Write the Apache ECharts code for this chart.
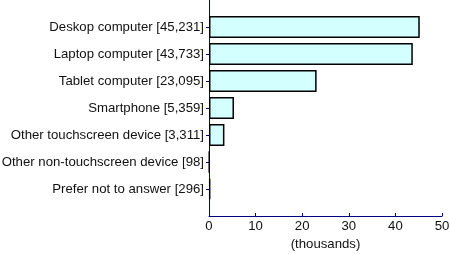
<!DOCTYPE html>
<html><head><meta charset="utf-8">
<script src="https://cdn.jsdelivr.net/npm/echarts@6/dist/echarts.min.js"></script>
<style>html,body{margin:0;padding:0;background:#fff}#c{width:450px;height:254px}</style>
</head><body><div id="c"></div>
<script>
const categories = ["Deskop computer [45,231]","Laptop computer [43,733]","Tablet computer [23,095]","Smartphone [5,359]","Other touchscreen device [3,311]","Other non-touchscreen device [98]","Prefer not to answer [296]"];
const values = [45.231, 43.733, 23.095, 5.359, 3.311, 0.098, 0.296];
const xTicks = [0, 10, 20, 30, 40, 50];

const cats = [""].concat(categories, [""]);
const vals = [null].concat(values, [null]);
const chart = echarts.init(document.getElementById('c'), null, {renderer:'canvas'});
chart.setOption({
  animation:false,
  grid:{left:209, right:8, top:0, bottom:38, containLabel:false, outerBoundsMode:'none'},
  xAxis:{type:'value', min:xTicks[0], max:xTicks[xTicks.length-1], interval:10,
    name:'(thousands)', nameLocation:'middle', nameGap:15,
    nameTextStyle:{color:'#111', fontFamily:'Liberation Sans', fontSize:13.2},
    axisLine:{show:true, lineStyle:{color:'#000080', width:1}},
    axisTick:{show:true, inside:true, length:3, lineStyle:{color:'#000080'}},
    axisLabel:{color:'#111', fontFamily:'Liberation Sans', fontSize:13.2, margin:4},
    splitLine:{show:false}},
  yAxis:{type:'category', data:cats, inverse:true, boundaryGap:false,
    axisLine:{show:true, lineStyle:{color:'#000080', width:1}},
    axisTick:{show:true, length:3, lineStyle:{color:'#000080'},
      interval:function(i){return i>0 && i<cats.length-1;}},
    axisLabel:{color:'#111', fontFamily:'Liberation Sans', fontSize:13.2, margin:5,
      interval:0},
    splitLine:{show:false}},
  series:[{type:'bar', data:vals, barWidth:22,
    itemStyle:{color:'#d4ffff', borderColor:'#000', borderWidth:1.5}}]
});
</script></body></html>
